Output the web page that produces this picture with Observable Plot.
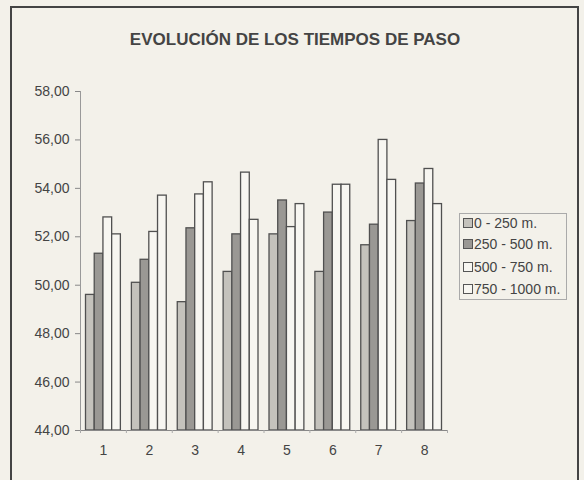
<!DOCTYPE html>
<html>
<head>
<meta charset="utf-8">
<script src="https://cdn.jsdelivr.net/npm/d3@7"></script>
<script src="https://cdn.jsdelivr.net/npm/@observablehq/plot@0.6"></script>
<style>
  html, body { margin: 0; padding: 0; background: #f3f1ea; }
  #wrap { position: relative; width: 584px; height: 480px; overflow: hidden; background: #f3f1ea; font-family: "Liberation Sans", Arial, sans-serif; }
  #frame { position: absolute; left: 10px; top: 6px; width: 569px; height: 490px; border: 2px solid #444; box-sizing: border-box; }
  #title { position: absolute; left: 0; top: 30px; width: 584px; text-align: center; font-weight: bold; font-size: 17px; line-height: 20px; color: #444; padding-left: 6px; box-sizing: border-box; }
  #chart { position: absolute; left: 0; top: 0; }
  #legend { position: absolute; left: 459px; top: 213px; width: 108px; height: 87px; border: 1px solid #aaa; box-sizing: border-box; font-size: 14px; color: #444; }
  .item { position: absolute; left: 3px; height: 16px; line-height: 16px; white-space: nowrap; }
  .sw { display: inline-block; width: 8px; height: 8px; border: 1px solid #555; margin-right: 1px; vertical-align: 0px; }
</style>
</head>
<body>
<div id="wrap">
  <div id="frame"></div>
  <div id="chart"></div>
  <div id="title">EVOLUCIÓN DE LOS TIEMPOS DE PASO</div>
  <div id="legend"></div>
</div>
<script>
const groups = [1, 2, 3, 4, 5, 6, 7, 8];
const seriesNames = ["0 - 250 m.", "250 - 500 m.", "500 - 750 m.", "750 - 1000 m."];
const s0_250 = [49.6, 50.1, 49.3, 50.55, 52.1, 50.55, 51.65, 52.65];
const s250_500 = [51.3, 51.05, 52.35, 52.1, 53.5, 53.0, 52.5, 54.2];
const s500_750 = [52.8, 52.2, 53.75, 54.65, 52.4, 54.15, 56.0, 54.8];
const s750_1000 = [52.1, 53.7, 54.25, 52.7, 53.35, 54.15, 54.35, 53.35];
const yTicks = [44, 46, 48, 50, 52, 54, 56, 58];
const colors = ["#c4c2bc", "#9a9894", "#f7f6f1", "#f7f6f1"];

const seriesValues = [s0_250, s250_500, s500_750, s750_1000];
const barW = 0.19;
const rows = [];
seriesValues.forEach((vals, i) => {
  vals.forEach((v, j) => {
    const g = groups[j];
    rows.push({ series: seriesNames[i], g, x1: g - 2 * barW + i * barW, x2: g - 2 * barW + (i + 1) * barW, v });
  });
});
const bounds = d3.range(0.5, 9, 1);

const plot = Plot.plot({
  width: 584,
  height: 480,
  marginLeft: 80,
  marginRight: 137,
  marginTop: 91,
  marginBottom: 50,
  style: { background: "transparent", fontFamily: "Liberation Sans, Arial, sans-serif", fontSize: "14px", color: "#444" },
  x: { type: "linear", domain: [0.5, 8.5], axis: null },
  y: { type: "linear", domain: [44, 58], axis: null },
  color: { domain: seriesNames, range: colors },
  marks: [
    Plot.rectY(rows, { x1: "x1", x2: "x2", y1: () => 44, y2: "v", fill: "series", stroke: "#505050", strokeWidth: 1.3 }),
    Plot.ruleX([0.5], { x: d => d, y1: () => 44, y2: () => 58, stroke: "#999", strokeWidth: 1 }),
    Plot.ruleY([44], { y: d => d, x1: () => 0.5, x2: () => 8.5, stroke: "#888", strokeWidth: 1 }),
    Plot.ruleY(yTicks, { y: d => d, x1: () => 0.5, x2: () => 0.5, insetLeft: -5, stroke: "#888" }),
    Plot.text(yTicks, { y: d => d, x: () => 0.5, dx: -11, text: d => d.toFixed(2).replace(".", ","), textAnchor: "end", fill: "#444", fontSize: 14 }),
    Plot.ruleX(bounds, { x: d => d, y1: () => 44, y2: () => 44, insetBottom: -3, stroke: "#aaa" }),
    Plot.text(groups, { x: d => d, y: () => 44, dy: 20, text: d => String(d), fill: "#444", fontSize: 14 })
  ]
});
document.getElementById("chart").appendChild(plot);

const legend = document.getElementById("legend");
const tops = [1, 22, 45, 67];
seriesNames.forEach((name, i) => {
  const div = document.createElement("div");
  div.className = "item";
  div.style.top = tops[i] + "px";
  div.innerHTML = `<span class="sw" style="background:${colors[i]}"></span>${name}`;
  legend.appendChild(div);
});
</script>
</body>
</html>
